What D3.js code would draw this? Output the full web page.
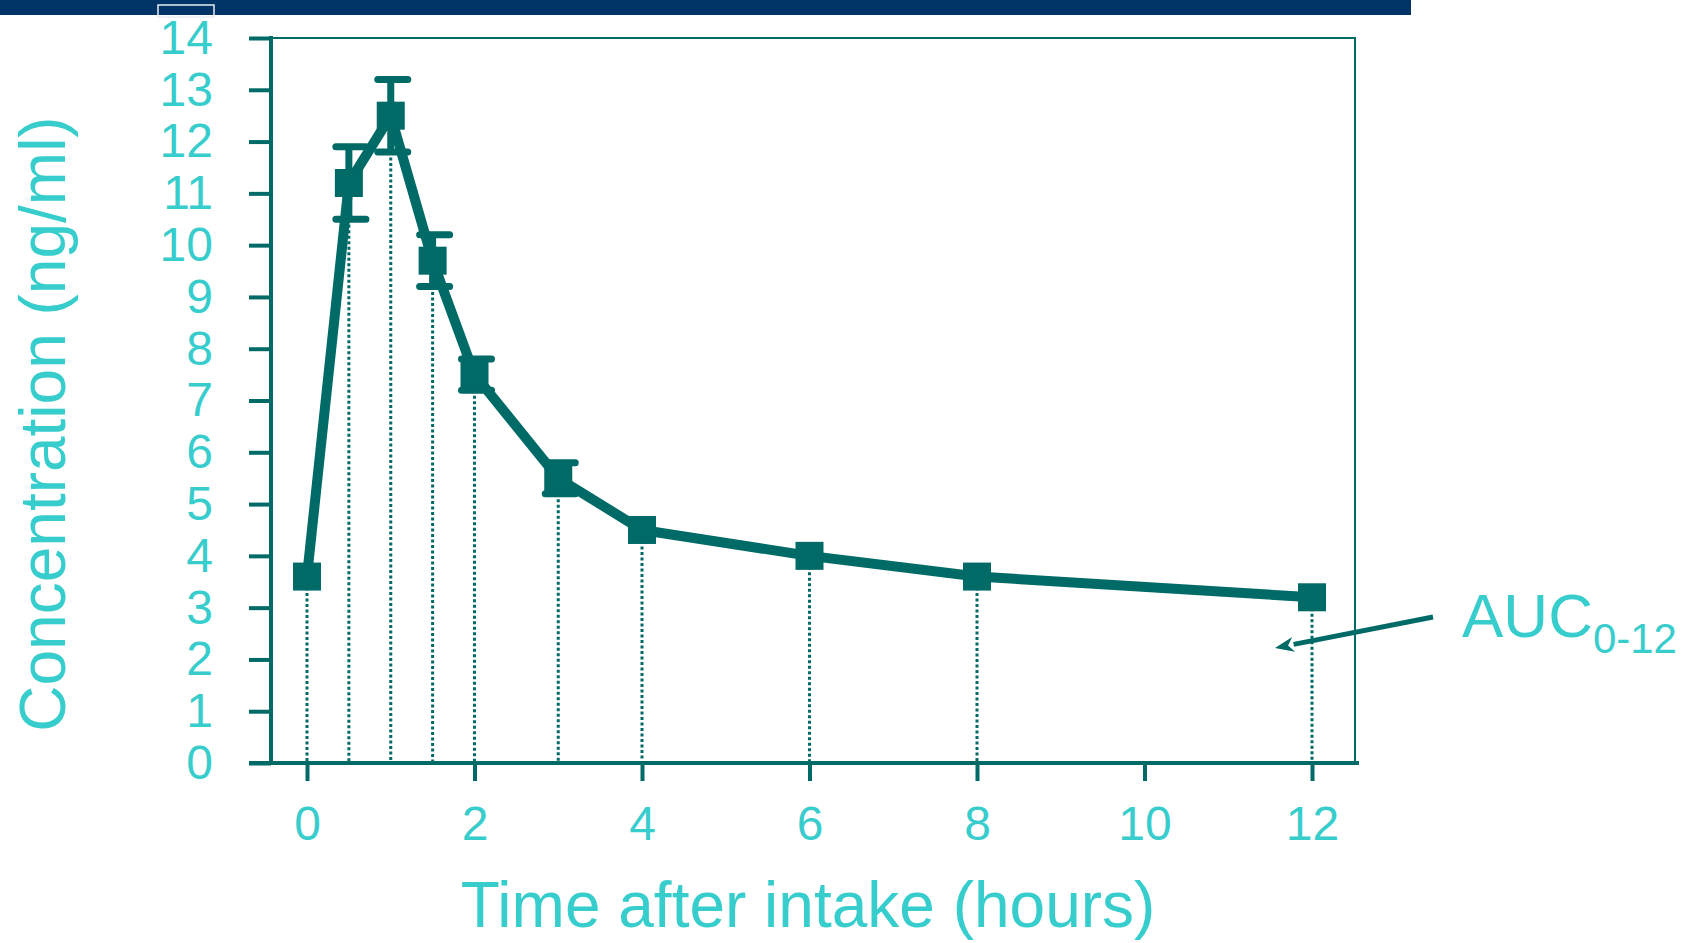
<!DOCTYPE html>
<html>
<head>
<meta charset="utf-8">
<script src="https://cdn.jsdelivr.net/npm/d3@7"></script>
<style>
  html, body { margin: 0; background: #fff; overflow: hidden; }
  svg { display: block; }
  text { font-family: "Liberation Sans", Arial, sans-serif; }
</style>
</head>
<body>
<div id="displaybox"></div>
<script>
// hours after intake and mean concentration (ng/ml)
let times  = [0, 0.5, 1, 1.5, 2, 3, 4, 6, 8, 12];
let conc   = [3.6, 11.2, 12.5, 9.7, 7.5, 5.5, 4.5, 4.0, 3.6, 3.2];
// error bar ends (null = no bar drawn)
let errHigh = [null, 11.9, 13.2, 10.2, 7.8, 5.8, null, null, null, null];
let errLow  = [null, 10.5, 11.8, 9.2, 7.2, 5.2, null, null, null, null];

let xTicks = [0, 2, 4, 6, 8, 10, 12];
let yTicks = d3.range(0, 15);

let lineColor = "#006a67";
let textColor = "#38cdcd";
let font = "Liberation Sans, Arial, sans-serif";

let svg = d3.select("#displaybox")
    .append("svg")
        .attr("width", 1695)
        .attr("height", 943);

// header bar
svg.append("rect")
    .attr("x", 0).attr("y", 0)
    .attr("width", 1411).attr("height", 15)
    .style("fill", "#003366");
svg.append("rect")
    .attr("x", 158).attr("y", 5)
    .attr("width", 56).attr("height", 12)
    .style("fill", "none")
    .style("stroke", "#e8ecf2")
    .style("stroke-width", 1.5);

let x = d3.scaleLinear()
    .domain([0, 12])
    .range([307, 1312]);
let y = d3.scaleLinear()
    .domain([0, 14])
    .range([763, 38]);

let left = 271, right = 1355;

// frame top and right
svg.append("path")
    .attr("d", `M${left},${y(14)}H${right}V${y(0)}`)
    .style("fill", "none")
    .style("stroke", lineColor)
    .style("stroke-width", 2);

// y axis
let yAxis = svg.append("g")
    .attr("transform", `translate(${left}, 0)`)
    .call(d3.axisLeft(y).tickValues(yTicks).tickSize(22).tickPadding(36));
yAxis.select(".domain").remove();
yAxis.selectAll(".tick line").style("stroke", lineColor).style("stroke-width", 4);
yAxis.selectAll(".tick text")
    .style("fill", textColor)
    .style("font-size", "48px")
    .style("font-family", font);

// x axis
let xAxis = svg.append("g")
    .attr("transform", `translate(0, ${y(0)})`)
    .call(d3.axisBottom(x).tickValues(xTicks).tickSize(18).tickPadding(25));
xAxis.select(".domain").remove();
xAxis.selectAll(".tick line").style("stroke", lineColor).style("stroke-width", 4);
xAxis.selectAll(".tick text")
    .style("fill", textColor)
    .style("font-size", "48px")
    .style("font-family", font);

// axis lines
svg.append("line")
    .attr("x1", left).attr("x2", left)
    .attr("y1", y(14) - 2).attr("y2", y(0) + 2)
    .style("stroke", lineColor).style("stroke-width", 4);
svg.append("line")
    .attr("x1", 249).attr("x2", 1359)
    .attr("y1", y(0)).attr("y2", y(0))
    .style("stroke", lineColor).style("stroke-width", 4);

let points = times.map((t, i) => ({t: t, c: conc[i], hi: errHigh[i], lo: errLow[i]}));

// dotted drop lines
svg.selectAll(".drop").data(points)
    .enter()
    .append("line")
        .attr("class", "drop")
        .attr("x1", d => x(d.t)).attr("x2", d => x(d.t))
        .attr("y1", d => y(d.lo !== null ? d.lo : d.c))
        .attr("y2", y(0) - 2)
        .style("stroke", lineColor)
        .style("stroke-width", 3)
        .style("stroke-dasharray", "3,2.5");

// error bars
let bars = points.filter(d => d.hi !== null);
svg.selectAll(".stem").data(bars)
    .enter()
    .append("line")
        .attr("x1", d => x(d.t)).attr("x2", d => x(d.t))
        .attr("y1", d => y(d.hi)).attr("y2", d => y(d.lo))
        .style("stroke", lineColor)
        .style("stroke-width", 7);
["hi", "lo"].forEach(k => {
    svg.selectAll(".cap-" + k).data(bars)
        .enter()
        .append("line")
            .attr("x1", d => x(d.t) - 13).attr("x2", d => x(d.t) + 17)
            .attr("y1", d => y(d[k])).attr("y2", d => y(d[k]))
            .style("stroke", lineColor)
            .style("stroke-width", 7)
            .style("stroke-linecap", "round");
});

// mean line
let line = d3.line()
    .x(d => x(d.t))
    .y(d => y(d.c));
svg.append("path")
    .datum(points)
    .attr("d", line)
    .style("fill", "none")
    .style("stroke", lineColor)
    .style("stroke-width", 10)
    .style("stroke-linejoin", "round");

// square markers
svg.selectAll(".marker").data(points)
    .enter()
    .append("rect")
        .attr("x", d => x(d.t) - 14)
        .attr("y", d => y(d.c) - 14)
        .attr("width", 28)
        .attr("height", 28)
        .style("fill", lineColor);

// axis titles
svg.append("text")
    .attr("x", 808).attr("y", 927)
    .attr("text-anchor", "middle")
    .style("font-size", "64px")
    .style("fill", textColor)
    .text("Time after intake (hours)");

svg.append("text")
    .attr("transform", "translate(65, 424) rotate(-90)")
    .attr("text-anchor", "middle")
    .style("font-size", "64px")
    .style("fill", textColor)
    .text("Concentration (ng/ml)");

// AUC annotation arrow
let tail = [1433, 617], tip = [1275, 648];
let ang = Math.atan2(tip[1] - tail[1], tip[0] - tail[0]);
let headLen = 19, headHalf = 7.5;
let base = [tip[0] - headLen * Math.cos(ang), tip[1] - headLen * Math.sin(ang)];
svg.append("line")
    .attr("x1", tail[0]).attr("y1", tail[1])
    .attr("x2", base[0]).attr("y2", base[1])
    .style("stroke", lineColor)
    .style("stroke-width", 5);
svg.append("path")
    .attr("d", d3.line()([
        tip,
        [base[0] + headHalf * Math.sin(ang), base[1] - headHalf * Math.cos(ang)],
        [tip[0] - 0.7 * headLen * Math.cos(ang), tip[1] - 0.7 * headLen * Math.sin(ang)],
        [base[0] - headHalf * Math.sin(ang), base[1] + headHalf * Math.cos(ang)]
    ]) + "Z")
    .style("fill", lineColor);

let auc = svg.append("text")
    .attr("x", 1462).attr("y", 637)
    .style("font-size", "62px")
    .style("fill", textColor);
auc.append("tspan").text("AUC");
auc.append("tspan")
    .attr("dy", 16)
    .style("font-size", "42px")
    .text("0-12");
</script>
</body>
</html>
